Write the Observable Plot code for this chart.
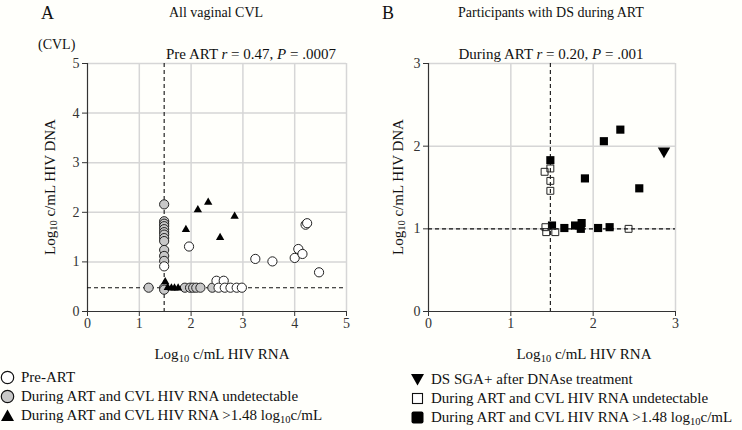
<!DOCTYPE html>
<html>
<head>
<meta charset="utf-8">
<script src="https://cdn.jsdelivr.net/npm/d3@7"></script>
<script src="https://cdn.jsdelivr.net/npm/@observablehq/plot@0.6"></script>
<style>
  html, body { margin: 0; padding: 0; background: #fffffb; }
  #root { position: relative; width: 742px; height: 430px; background: #fffffb; font-family: "Liberation Serif", "DejaVu Serif", serif; color: #111; overflow: hidden; }
  .t { position: absolute; white-space: nowrap; line-height: 1; }
  .c { transform: translateX(-50%); }
  .rot { transform: translate(-50%, -50%) rotate(-90deg); }
  sub { font-size: 0.7em; vertical-align: -0.25em; line-height: 0; }
  .leg { position: absolute; white-space: nowrap; font-size: 15px; line-height: 1; display: flex; align-items: center; }
  .leg svg { margin-right: 6px; }
</style>
</head>
<body>
<div id="root"></div>
<script>
// ---------- Data: Panel A (All vaginal CVL) ----------
const preArtX = [1.96, 1.48, 2.49, 2.63, 2.53, 2.65, 2.76, 2.88, 2.98, 3.24, 3.57, 4.00, 4.07, 4.15, 4.21, 4.24, 4.47];
const preArtY = [1.31, 0.91, 0.62, 0.62, 0.48, 0.48, 0.48, 0.48, 0.48, 1.06, 1.01, 1.08, 1.26, 1.16, 1.75, 1.78, 0.79];

const undetX = [1.18, 1.48, 1.48, 1.48, 1.48, 1.48, 1.48, 1.48, 1.48, 1.48, 1.48, 1.48, 1.48, 1.48, 1.48, 1.88, 1.98, 2.04, 2.10, 2.18, 2.41];
const undetY = [0.48, 2.16, 1.82, 1.77, 1.72, 1.66, 1.60, 1.55, 1.48, 1.42, 1.24, 1.12, 1.02, 0.48, 0.44, 0.48, 0.48, 0.48, 0.48, 0.48, 0.48];

const detX = [1.50, 1.55, 1.62, 1.68, 1.75, 1.90, 2.13, 2.33, 2.56, 2.84];
const detY = [0.60, 0.48, 0.47, 0.47, 0.47, 1.65, 2.05, 2.20, 1.49, 1.92];

// ---------- Data: Panel B (Participants with DS during ART) ----------
const bUndetX = [1.41, 1.48, 1.48, 1.48, 1.42, 1.43, 1.54, 2.43];
const bUndetY = [1.69, 1.73, 1.58, 1.46, 1.02, 0.96, 0.96, 1.00];

const bDetX = [1.48, 1.90, 2.13, 2.33, 2.56, 1.50, 1.65, 1.78, 1.86, 1.85, 2.06, 2.20];
const bDetY = [1.83, 1.61, 2.06, 2.20, 1.49, 1.04, 1.01, 1.04, 1.07, 1.00, 1.01, 1.02];

const bSgaX = [2.86];
const bSgaY = [1.94];

// thresholds and ticks
const rnaLimit = 1.48;
const dnaLimitA = 0.48;
const dnaLimitB = 1.0;
const ticksA = [0, 1, 2, 3, 4, 5];
const ticksB = [0, 1, 2, 3];
const gridA = [1, 2, 3, 4, 5];
const gridB = [1, 2, 3];

const toRows = (xs, ys) => xs.map((x, i) => ({x, y: ys[i]}));

const FONT = '"Liberation Serif", "DejaVu Serif", serif';
const root = document.getElementById("root");
const fmt = d3.format("d");

function panel(opts) {
  const {domain, ticks, grid, mL, mR, marks, hLimit} = opts;
  return Plot.plot({
    width: 371,
    height: 335,
    marginLeft: mL,
    marginRight: mR,
    marginTop: 63,
    marginBottom: 24,
    x: {domain, ticks},
    y: {domain, ticks},
    style: {fontFamily: FONT, fontSize: "14px", background: "transparent", color: "#333"},
    marks: [
      Plot.gridX({ticks: grid, stroke: "#d6d6d6", strokeOpacity: 1, strokeWidth: 1.5}),
      Plot.gridY({ticks: grid, stroke: "#d6d6d6", strokeOpacity: 1, strokeWidth: 1.5}),
      Plot.axisX({ticks, tickSize: 5, tickPadding: 2, label: null, stroke: "#333", tickFormat: fmt}),
      Plot.axisY({ticks, tickSize: 5, tickPadding: 3, label: null, stroke: "#333", tickFormat: fmt}),
      Plot.ruleX([domain[0]], {stroke: "#333", strokeWidth: 1.2}),
      Plot.ruleY([domain[0]], {stroke: "#333", strokeWidth: 1.2}),
      Plot.ruleX([rnaLimit], {stroke: "#111", strokeDasharray: "4,3", strokeWidth: 1.1}),
      Plot.ruleY([hLimit], {stroke: "#111", strokeDasharray: "4,3", strokeWidth: 1.1}),
      ...marks
    ]
  });
}

const chartA = panel({
  domain: [0, 5], ticks: ticksA, grid: gridA, mL: 87, mR: 25, hLimit: dnaLimitA,
  marks: [
    Plot.dot(toRows(undetX, undetY), {x: "x", y: "y", r: 4.6, fill: "#c8c8c8", stroke: "#222", strokeWidth: 1}),
    Plot.dot(toRows(preArtX, preArtY), {x: "x", y: "y", r: 4.6, fill: "#fff", stroke: "#222", strokeWidth: 1}),
    Plot.dot(toRows(detX, detY), {x: "x", y: "y", r: 3.1, symbol: "triangle", fill: "#000", stroke: "none"})
  ]
});

const chartB = panel({
  domain: [0, 3], ticks: ticksB, grid: gridB, mL: 57, mR: 67, hLimit: dnaLimitB,
  marks: [
    Plot.dot(toRows(bDetX, bDetY), {x: "x", y: "y", r: 4.6, symbol: "square", fill: "#000", stroke: "none"}),
    Plot.dot(toRows(bUndetX, bUndetY), {x: "x", y: "y", r: 3.9, symbol: "square", fill: "#fff", fillOpacity: 0, stroke: "#222", strokeWidth: 1}),
    Plot.dot(toRows(bSgaX, bSgaY), {x: "x", y: "y", r: 4.6, symbol: "triangle", rotate: 180, fill: "#000", stroke: "none"})
  ]
});

chartA.style.position = "absolute"; chartA.style.left = "0px"; chartA.style.top = "0px";
chartB.style.position = "absolute"; chartB.style.left = "371px"; chartB.style.top = "0px";
root.appendChild(chartA);
root.appendChild(chartB);

function txt(html, left, top, size, cls = "") {
  const d = document.createElement("div");
  d.className = "t " + cls;
  d.style.left = left + "px";
  d.style.top = top + "px";
  d.style.fontSize = size + "px";
  d.innerHTML = html;
  root.appendChild(d);
  return d;
}

// Panel A texts
txt("A", 41, 4, 18);
txt("All vaginal CVL", 216, 6, 14, "c");
txt("(CVL)", 38, 38, 14);
txt("Pre ART <i>r</i> = 0.47, <i>P</i> = .0007", 251, 47, 15, "c");
txt("Log<sub>10</sub> c/mL HIV RNA", 222, 347, 15, "c");
txt("Log<sub>10</sub> c/mL HIV DNA", 50, 187, 15, "rot");

// Panel B texts
txt("B", 382, 4, 18);
txt("Participants with DS during ART", 551, 6, 14, "c");
txt("During ART <i>r</i> = 0.20, <i>P</i> = .001", 551, 47, 15, "c");
txt("Log<sub>10</sub> c/mL HIV RNA", 584, 347, 15, "c");
txt("Log<sub>10</sub> c/mL HIV DNA", 398, 187, 15, "rot");

// Legends
function legend(svgInner, html, left, top) {
  const d = document.createElement("div");
  d.className = "leg";
  d.style.left = left + "px";
  d.style.top = top + "px";
  d.innerHTML = `<svg width="15" height="15" viewBox="0 0 15 15">${svgInner}</svg><span>${html}</span>`;
  root.appendChild(d);
}
const circOpen = `<circle cx="7.5" cy="7.5" r="6.2" fill="#fff" stroke="#111" stroke-width="1.2"/>`;
const circGray = `<circle cx="7.5" cy="7.5" r="6.2" fill="#c8c8c8" stroke="#111" stroke-width="1.2"/>`;
const triUp = `<path d="M7.5 1.5 L14 13 L1 13 Z" fill="#000"/>`;
const triDown = `<path d="M1 2 L14 2 L7.5 13.5 Z" fill="#000"/>`;
const sqOpen = `<rect x="2.5" y="2.5" width="10" height="10" fill="#fff" stroke="#111" stroke-width="1.1"/>`;
const sqFill = `<rect x="1.5" y="1.5" width="12" height="12" rx="2" fill="#000"/>`;

legend(circOpen, "Pre-ART", 0, 370);
legend(circGray, "During ART and CVL HIV RNA undetectable", 0, 389);
legend(triUp, "During ART and CVL HIV RNA &gt;1.48 log<sub>10</sub>c/mL", 0, 408);

legend(triDown, "DS SGA+ after DNAse treatment", 410, 372);
legend(sqOpen, "During ART and CVL HIV RNA undetectable", 410, 391);
legend(sqFill, "During ART and CVL HIV RNA &gt;1.48 log<sub>10</sub>c/mL", 410, 410);
</script>
</body>
</html>
